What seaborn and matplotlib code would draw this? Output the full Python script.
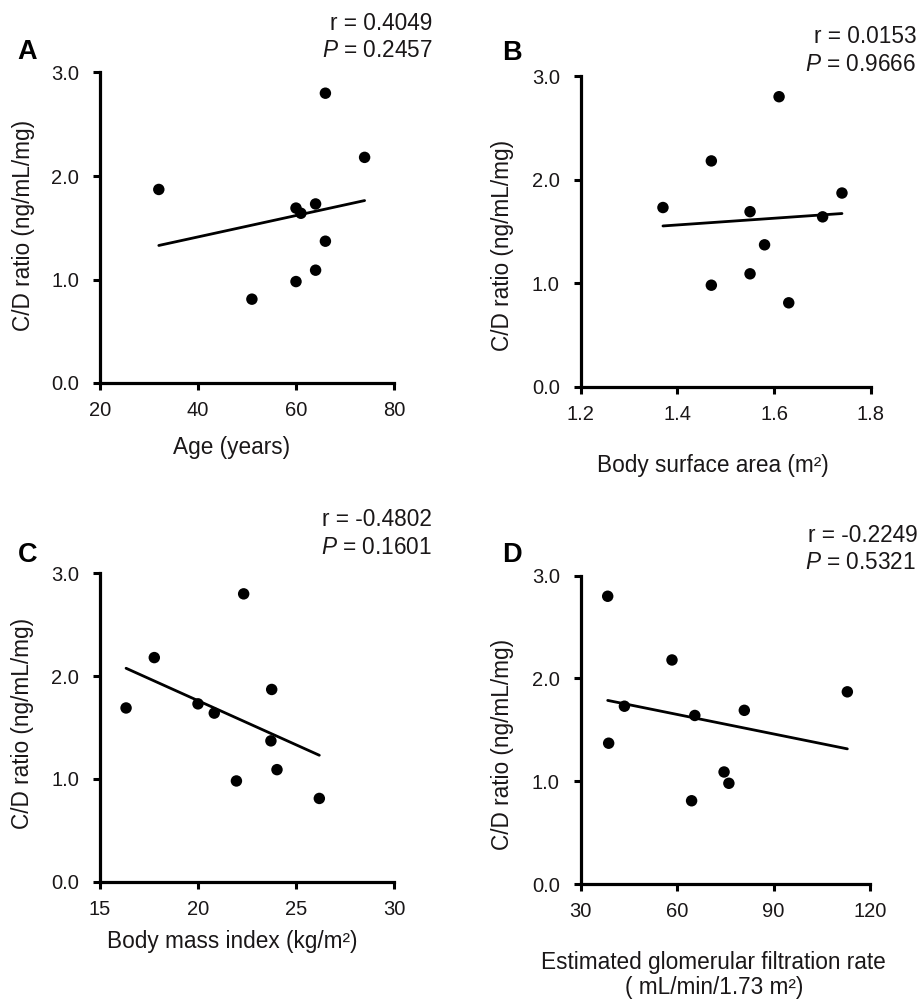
import matplotlib
matplotlib.use("Agg")
import matplotlib.pyplot as plt
import seaborn as sns
import pandas as pd

# ---------------- data ----------------
cd_ratio = [2.80, 2.18, 1.87, 1.73, 1.69, 1.64, 1.37, 1.09, 0.98, 0.81]
age = [66, 74, 32, 64, 60, 61, 66, 64, 60, 51]
bsa = [1.61, 1.47, 1.74, 1.37, 1.55, 1.70, 1.58, 1.55, 1.47, 1.63]
bmi = [22.33, 17.77, 23.76, 20.0, 16.33, 20.83, 23.72, 24.03, 21.96, 26.19]
egfr = [38.4, 58.4, 112.95, 43.6, 80.9, 65.5, 38.7, 74.6, 76.1, 64.5]

panel_letters = ["A", "B", "C", "D"]
x_labels = ["Age (years)", "Body surface area (m²)", "Body mass index (kg/m²)",
            "Estimated glomerular filtration rate\n( mL/min/1.73 m²)"]
y_label = "C/D ratio (ng/mL/mg)"
r_texts = ["r = 0.4049", "r = 0.0153", "r = -0.4802", "r = -0.2249"]
p_texts = ["0.2457", "0.9666", "0.1601", "0.5321"]
x_ticks = [[20, 40, 60, 80], [1.2, 1.4, 1.6, 1.8], [15, 20, 25, 30], [30, 60, 90, 120]]
x_ticklabels = [["20", "40", "60", "80"], ["1.2", "1.4", "1.6", "1.8"],
                ["15", "20", "25", "30"], ["30", "60", "90", "120"]]
y_ticks = [0.0, 1.0, 2.0, 3.0]
y_ticklabels = ["0.0", "1.0", "2.0", "3.0"]
x_series = [age, bsa, bmi, egfr]

# ---------------- style ----------------
sns.set_theme(style="ticks")
plt.rcParams["font.family"] = ["Liberation Sans", "DejaVu Sans"]
plt.rcParams["mathtext.fontset"] = "custom"
plt.rcParams["mathtext.rm"] = "Liberation Sans"
plt.rcParams["mathtext.it"] = "Liberation Sans:italic"
TXT = "#1a1718"

W, H = 922, 1007
fig = plt.figure(figsize=(W / 100, H / 100), dpi=100)
fig.patch.set_facecolor("white")

def fx(x):
    return x / W

def fy(y):
    return 1 - y / H

# axes boxes in pixels: (left, right, top, bottom)
boxes = [(100, 394, 72.5, 383), (580.7, 871, 76, 386.7),
         (100, 394, 573.3, 881.7), (580.7, 870, 575.7, 884)]
ylabel_pos = [(-0.238, 0.506), (-0.248, 0.4535), (-0.243, 0.514), (-0.248, 0.4535)]
# x-label baselines (last line for multi-line labels)
xlabel_pos = [(0.449, -0.2287), (0.456, -0.2736), (0.449, -0.216), (0.46, -0.358)]
letter_pos = [(17, 59.3), (501.7, 60), (18, 561.7), (501.7, 561.7)]
r_pos = [(432, 29.5), (917, 43), (432, 526), (918, 542)]
p_pos = [(432, 57.3), (916, 71), (432, 554), (916, 569)]

for i in range(4):
    l, r, t, b = boxes[i]
    ax = fig.add_axes([fx(l), fy(b), fx(r - l), (b - t) / H])
    df = pd.DataFrame({"x": x_series[i], "y": cd_ratio})
    sns.regplot(data=df, x="x", y="y", ax=ax, ci=None, truncate=True,
                scatter_kws=dict(s=68, color="black", edgecolors="none",
                                 alpha=1, clip_on=False, zorder=3),
                line_kws=dict(color="black", lw=2.0))
    ax.set_xlim(x_ticks[i][0], x_ticks[i][-1])
    ax.set_ylim(0, 3.0)
    ax.set_xticks(x_ticks[i])
    ax.set_xticklabels(x_ticklabels[i])
    ax.set_yticks(y_ticks)
    ax.set_yticklabels(y_ticklabels)
    for s in ["top", "right"]:
        ax.spines[s].set_visible(False)
    for s in ["left", "bottom"]:
        ax.spines[s].set_linewidth(2.3)
        ax.spines[s].set_color("black")
    ax.tick_params(axis="both", direction="out", length=5, width=2.2,
                   color="black", labelsize=14.5, labelcolor=TXT)
    ax.tick_params(axis="x", pad=8.0)
    ax.tick_params(axis="y", pad=10.0)
    ax.set_facecolor("white")

    ax.set_ylabel(y_label, fontsize=16.3, color=TXT)
    ax.yaxis.label.set_va("baseline")
    ax.yaxis.set_label_coords(*ylabel_pos[i])
    ax.set_xlabel(x_labels[i], fontsize=16.3, color=TXT, linespacing=1.15)
    ax.xaxis.label.set_va("baseline")
    ax.xaxis.set_label_coords(*xlabel_pos[i])

    fig.text(fx(letter_pos[i][0]), fy(letter_pos[i][1]), panel_letters[i],
             fontsize=19.5, fontweight="bold", color="black",
             ha="left", va="baseline")
    fig.text(fx(r_pos[i][0]), fy(r_pos[i][1]), r_texts[i], fontsize=16.3,
             color=TXT, ha="right", va="baseline")
    fig.text(fx(p_pos[i][0]), fy(p_pos[i][1]), r"$P$" + " = " + p_texts[i],
             fontsize=16.3, color=TXT, ha="right", va="baseline")

fig.savefig("out.png", dpi=100, facecolor="white")
